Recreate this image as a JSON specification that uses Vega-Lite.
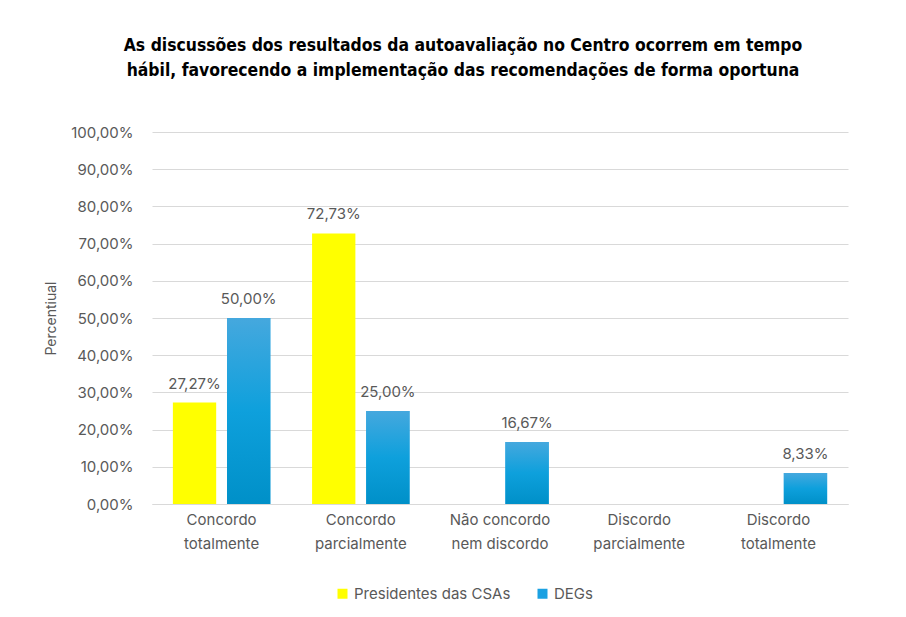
{
  "$schema": "https://vega.github.io/schema/vega-lite/v6.json",
  "width": 696,
  "height": 372,
  "autosize": {"type": "none"},
  "padding": {"left": 152, "top": 132, "right": 58, "bottom": 113},
  "background": "white",
  "config": {
    "locale": {"number": {"decimal": ",", "thousands": ".", "grouping": [3], "currency": ["R$", ""]}},
    "view": {"stroke": null},
    "font": "Inter"
  },
  "title": {
    "text": ["As discussões dos resultados da autoavaliação no Centro ocorrem em tempo", "hábil, favorecendo a implementação das recomendações de forma oportuna"],
    "font": "DejaVu Sans Condensed, Liberation Sans",
    "fontSize": 17.4,
    "fontWeight": "bold",
    "color": "#000000",
    "anchor": "middle",
    "dx": -37,
    "lineHeight": 25,
    "offset": 46
  },
  "data": {
    "values": [
      {"cat": "Concordo totalmente", "serie": "Presidentes das CSAs", "v": 0.2727},
      {"cat": "Concordo totalmente", "serie": "DEGs", "v": 0.5},
      {"cat": "Concordo parcialmente", "serie": "Presidentes das CSAs", "v": 0.7273},
      {"cat": "Concordo parcialmente", "serie": "DEGs", "v": 0.25},
      {"cat": "Não concordo nem discordo", "serie": "DEGs", "v": 0.1667},
      {"cat": "Discordo totalmente", "serie": "DEGs", "v": 0.0833}
    ]
  },
  "encoding": {
    "x": {
      "field": "cat",
      "type": "nominal",
      "sort": ["Concordo totalmente", "Concordo parcialmente", "Não concordo nem discordo", "Discordo parcialmente", "Discordo totalmente"],
      "scale": {"domain": ["Concordo totalmente", "Concordo parcialmente", "Não concordo nem discordo", "Discordo parcialmente", "Discordo totalmente"], "paddingInner": 0.3, "paddingOuter": 0.15},
      "axis": {
        "title": null,
        "labelAngle": 0,
        "labelColor": "#595959",
        "labelFontSize": 15,
        "labelPadding": 8,
        "labelBaseline": "top",
        "labelLineHeight": 24,
        "labelExpr": "datum.value == 'Não concordo nem discordo' ? ['Não concordo', 'nem discordo'] : split(datum.value, ' ')",
        "ticks": false,
        "domainColor": "#d9d9d9",
        "grid": false
      }
    },
    "xOffset": {
      "field": "serie",
      "type": "nominal",
      "scale": {"domain": ["Presidentes das CSAs", "DEGs"], "paddingInner": 0.2}
    },
    "y": {
      "field": "v",
      "type": "quantitative",
      "scale": {"domain": [0, 1]},
      "axis": {
        "title": "Percentiual",
        "titleColor": "#595959",
        "titleFontSize": 14,
        "titleFontWeight": "normal",
        "titlePadding": 12,
        "values": [0, 0.1, 0.2, 0.3, 0.4, 0.5, 0.6, 0.7, 0.8, 0.9, 1],
        "format": ".2%",
        "labelColor": "#595959",
        "labelFontSize": 15,
        "labelPadding": 19,
        "ticks": false,
        "domain": false,
        "gridColor": "#d9d9d9"
      }
    }
  },
  "layer": [
    {
      "mark": {"type": "bar"},
      "encoding": {
        "color": {
          "field": "serie",
          "type": "nominal",
          "scale": {"domain": ["Presidentes das CSAs", "DEGs"], "range": ["#ffff00", "#1ba1e2"]},
          "legend": {
            "title": null,
            "orient": "none",
            "legendX": 183,
            "legendY": 454,
            "direction": "horizontal",
            "symbolType": "square",
            "symbolSize": 100,
            "symbolStrokeWidth": 0,
            "labelFontSize": 15,
            "labelColor": "#595959",
            "columnPadding": 24
          }
        }
      }
    },
    {
      "transform": [{"filter": "datum.serie == 'DEGs'"}],
      "mark": {
        "type": "bar",
        "color": {
          "gradient": "linear",
          "x1": 0, "y1": 0, "x2": 0, "y2": 1,
          "stops": [
            {"offset": 0, "color": "#45a8de"},
            {"offset": 0.5, "color": "#0ea0dc"},
            {"offset": 1, "color": "#0090c8"}
          ]
        }
      }
    },
    {
      "mark": {"type": "text", "baseline": "middle", "dy": -19, "fontSize": 15, "color": "#595959"},
      "encoding": {"text": {"field": "v", "type": "quantitative", "format": ".2%"}}
    }
  ]
}
